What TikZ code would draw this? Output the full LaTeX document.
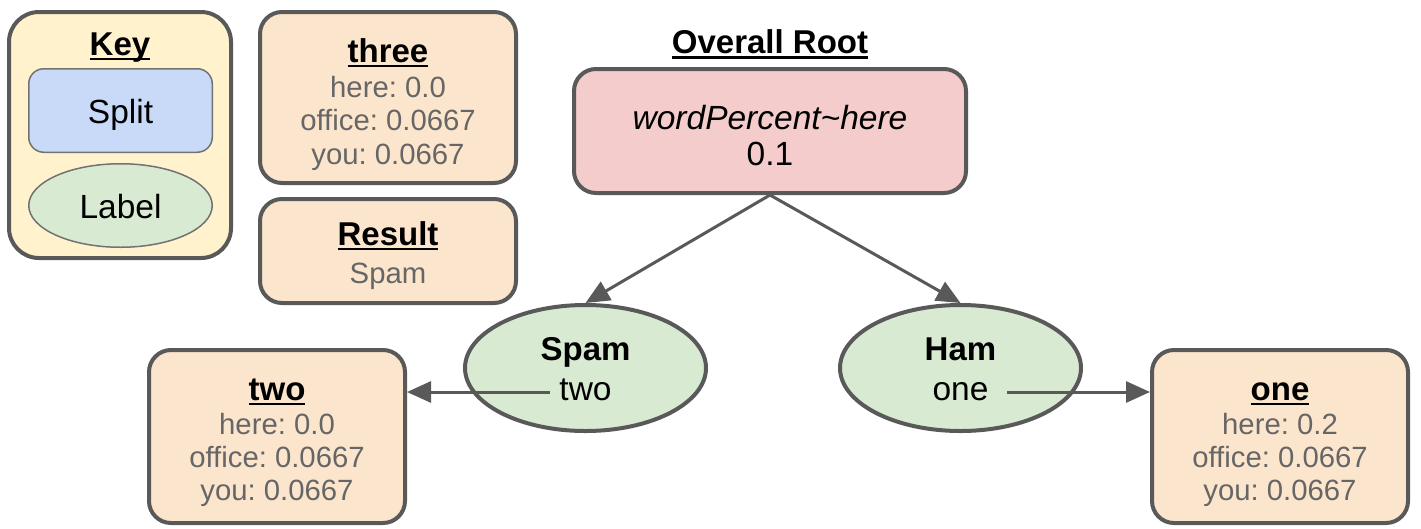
\documentclass[tikz,border=0pt]{standalone}
\usepackage{fontspec}
\setmainfont{Liberation Sans}
\usetikzlibrary{shapes.geometric,arrows.meta}
\frenchspacing

\definecolor{edge}{HTML}{595959}
\definecolor{muted}{HTML}{666666}
\definecolor{keyfill}{HTML}{FFF2CC}
\definecolor{splitfill}{HTML}{C9DAF8}
\definecolor{labelfill}{HTML}{D9EAD3}
\definecolor{cardfill}{HTML}{FCE5CD}
\definecolor{rootfill}{HTML}{F4CCCC}

% bold heading with an underline running through the descenders
\newcommand\hdul[1]{\setbox0\hbox{#1}\rlap{\rule[-0.16em]{\wd0}{0.07em}}\box0}

\tikzset{
  card/.style={draw=edge, line width=4pt, rounded corners=22pt, fill=cardfill, inner sep=0pt},
  keybox/.style={draw=edge, line width=4pt, rounded corners=30pt, fill=keyfill, inner sep=0pt},
  splitbox/.style={draw=edge!85, line width=1.5pt, rounded corners=15pt, fill=splitfill, inner sep=0pt},
  labelshape/.style={ellipse, draw=edge, inner sep=0pt, fill=labelfill},
  rootbox/.style={draw=edge, line width=4pt, rounded corners=22pt, fill=rootfill, inner sep=0pt},
  hd/.style={anchor=base, inner sep=0pt, font=\fontsize{33}{40}\selectfont\bfseries},
  big/.style={anchor=base, inner sep=0pt, font=\fontsize{33.5}{40}\selectfont},
  stat/.style={anchor=base, inner sep=0pt, text=muted, font=\fontsize{29.3}{34}\selectfont},
  link/.style={draw=edge, line width=3pt, -{Triangle[length=24pt,width=21pt]}},
}

\begin{document}
\begin{tikzpicture}[x=1pt,y=-1pt]
\useasboundingbox (0,0) rectangle (1421,528);

% ---- key ----
\node[keybox, minimum width=222pt, minimum height=246pt] (key) at (120,135) {};
\node[splitbox, minimum width=183.5pt, minimum height=83.5pt] (split) at (120.5,110.5) {};
\node[labelshape, line width=1.5pt, draw=edge!85, minimum width=183.5pt, minimum height=83.5pt] (lab) at (120.5,205.5) {};
\node[hd] (keyT) at (120,55) {\hdul{Key}};
\node[big] (splitT) at (120.5,123) {Split};
\node[big] (labT) at (120.5,218) {Label};

% ---- attribute table and result ----
\node[card, minimum width=256pt, minimum height=171pt] (three) at (388,97.5) {};
\node[hd] (threeH) at (388,62) {\hdul{three}};
\node[stat] (threeA) at (388,97) {here: 0.0};
\node[stat] (threeB) at (388,130.5) {office: 0.0667};
\node[stat] (threeC) at (388,164) {you: 0.0667};

\node[card, minimum width=256pt, minimum height=104pt] (result) at (388,251) {};
\node[hd] (resultH) at (388,245) {\hdul{Result}};
\node[stat] (resultA) at (388,283.5) {Spam};

% ---- root split ----
\node[hd] (rootH) at (770,53.5) {\hdul{Overall Root}};
\node[rootbox, minimum width=392pt, minimum height=124pt] (root) at (770,131) {};
\node[big, font=\fontsize{33.5}{40}\selectfont\itshape] (rootA) at (770,129) {wordPercent\textasciitilde here};
\node[big] (rootB) at (770,165) {0.1};

% ---- labels ----
\node[labelshape, line width=4pt, minimum width=241pt, minimum height=126pt] (spam) at (585.5,368) {};
\node[hd] (spamH) at (585.5,360) {Spam};
\node[big] (spamT) at (585.5,400) {two};

\node[labelshape, line width=4pt, minimum width=241pt, minimum height=126pt] (ham) at (960.5,368) {};
\node[hd] (hamH) at (960.5,360) {Ham};
\node[big] (hamT) at (960.5,400) {one};

% ---- leaf tables ----
\node[card, minimum width=256pt, minimum height=173pt] (two) at (277,436.5) {};
\node[hd] (twoH) at (277,400) {\hdul{two}};
\node[stat] (twoA) at (277,434.5) {here: 0.0};
\node[stat] (twoB) at (277,467.5) {office: 0.0667};
\node[stat] (twoC) at (277,500.5) {you: 0.0667};

\node[card, minimum width=256pt, minimum height=173pt] (one) at (1280,436.5) {};
\node[hd] (oneH) at (1280,400) {\hdul{one}};
\node[stat] (oneA) at (1280,434.5) {here: 0.2};
\node[stat] (oneB) at (1280,467.5) {office: 0.0667};
\node[stat] (oneC) at (1280,500.5) {you: 0.0667};

% ---- connectors ----
\coordinate (spamOut) at (550,392);
\coordinate (hamOut) at (1007,392);
\draw[link] (root.south) -- (spam.north);
\draw[link] (root.south) -- (ham.north);
\draw[link] (spamOut) -- (spamOut -| two.east);
\draw[link] (hamOut) -- (hamOut -| one.west);
\end{tikzpicture}
\end{document}
